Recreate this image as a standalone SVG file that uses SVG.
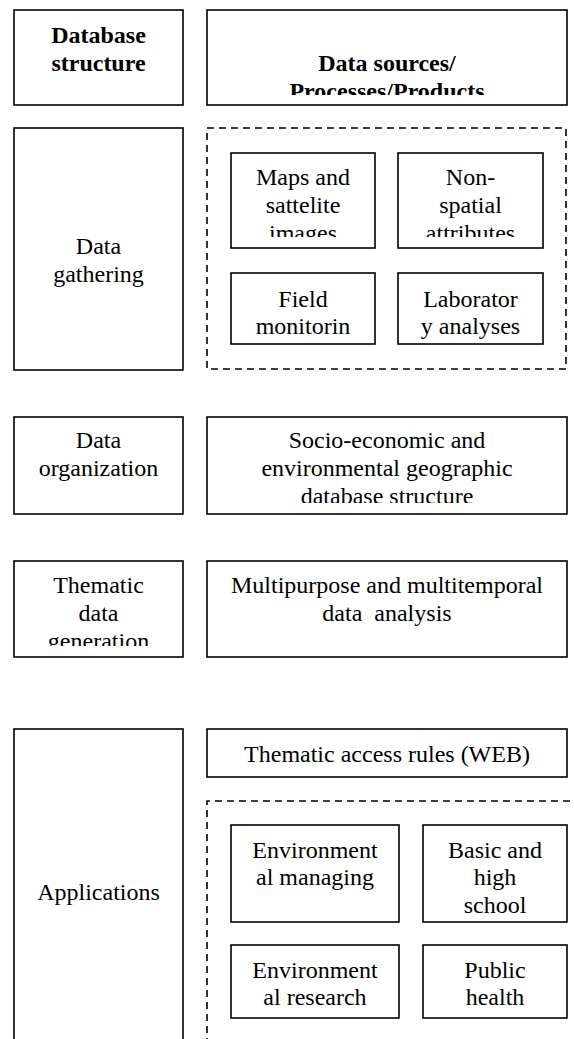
<svg xmlns="http://www.w3.org/2000/svg" width="574" height="1039" viewBox="0 0 574 1039">
<style>
.box{fill:#fff;stroke:#000;stroke-width:1.6}
.dash{fill:none;stroke:#000;stroke-width:1.6;stroke-dasharray:7 5}
.t{font-family:"Liberation Serif","Times New Roman",serif;font-size:24px;fill:#000;text-anchor:middle}
.b{font-weight:bold}
</style>
<defs>
<clipPath id="c-src"><rect x="207" y="10" width="360" height="85"/></clipPath>
<clipPath id="c-maps"><rect x="231" y="153" width="144" height="84"/></clipPath>
<clipPath id="c-non"><rect x="398" y="153" width="145" height="84"/></clipPath>
<clipPath id="c-socio"><rect x="207" y="417" width="360" height="86"/></clipPath>
<clipPath id="c-them"><rect x="14" y="561" width="169" height="85"/></clipPath>
</defs>
<g id="connectors"></g>
<g id="hdr-structure" class="t">
<rect class="box" x="14" y="10" width="169" height="95"/>
<text class="b" x="98.5" y="43">Database</text>
<text class="b" x="98.5" y="71">structure</text>
</g>
<g id="hdr-sources" class="t">
<rect class="box" x="207" y="10" width="360" height="95"/>
<g clip-path="url(#c-src)">
<text class="b" x="387" y="71">Data sources/</text>
<text class="b" x="387" y="99">Processes/Products</text>
</g>
</g>
<g id="gathering" class="t">
<rect class="box" x="14" y="128" width="169" height="242"/>
<text x="98.5" y="254">Data</text>
<text x="98.5" y="282">gathering</text>
</g>
<g id="sources-group">
<rect class="dash" x="207" y="128" width="359" height="241"/>
</g>
<g id="maps" class="t">
<rect class="box" x="231" y="153" width="144" height="95"/>
<g clip-path="url(#c-maps)">
<text x="303" y="185">Maps and</text>
<text x="303" y="213">sattelite</text>
<text x="303" y="241">images</text>
</g>
</g>
<g id="nonspatial" class="t">
<rect class="box" x="398" y="153" width="145" height="95"/>
<g clip-path="url(#c-non)">
<text x="470.5" y="185">Non-</text>
<text x="470.5" y="213">spatial</text>
<text x="470.5" y="241">attributes</text>
</g>
</g>
<g id="field" class="t">
<rect class="box" x="231" y="273" width="144" height="71"/>
<text x="303" y="307">Field</text>
<text x="303" y="334">monitorin</text>
</g>
<g id="lab" class="t">
<rect class="box" x="398" y="273" width="145" height="71"/>
<text x="470.5" y="307">Laborator</text>
<text x="470.5" y="334">y analyses</text>
</g>
<g id="organization" class="t">
<rect class="box" x="14" y="417" width="169" height="97"/>
<text x="98.5" y="448">Data</text>
<text x="98.5" y="476">organization</text>
</g>
<g id="socio" class="t">
<rect class="box" x="207" y="417" width="360" height="97"/>
<g clip-path="url(#c-socio)">
<text x="387" y="448">Socio-economic and</text>
<text x="387" y="476">environmental geographic</text>
<text x="387" y="504">database structure</text>
</g>
</g>
<g id="thematic" class="t">
<rect class="box" x="14" y="561" width="169" height="96"/>
<g clip-path="url(#c-them)">
<text x="98.5" y="593">Thematic</text>
<text x="98.5" y="621">data</text>
<text x="98.5" y="649">generation</text>
</g>
</g>
<g id="multipurpose" class="t">
<rect class="box" x="207" y="561" width="360" height="96"/>
<text x="387" y="593">Multipurpose and multitemporal</text>
<text x="387" y="621" xml:space="preserve">data  analysis</text>
</g>
<g id="applications" class="t">
<rect class="box" x="14" y="729" width="169" height="330"/>
<text x="98.5" y="900">Applications</text>
</g>
<g id="access" class="t">
<rect class="box" x="207" y="729" width="360" height="48"/>
<text x="387" y="762">Thematic access rules (WEB)</text>
</g>
<g id="apps-group">
<path class="dash" d="M207 1045 V801 H580"/>
</g>
<g id="env-managing" class="t">
<rect class="box" x="231" y="825" width="168" height="97"/>
<text x="315" y="858">Environment</text>
<text x="315" y="885">al managing</text>
</g>
<g id="school" class="t">
<rect class="box" x="423" y="825" width="144" height="97"/>
<text x="495" y="858">Basic and</text>
<text x="495" y="885">high</text>
<text x="495" y="913">school</text>
</g>
<g id="env-research" class="t">
<rect class="box" x="231" y="945" width="168" height="73"/>
<text x="315" y="978">Environment</text>
<text x="315" y="1005">al research</text>
</g>
<g id="health" class="t">
<rect class="box" x="423" y="945" width="144" height="73"/>
<text x="495" y="978">Public</text>
<text x="495" y="1005">health</text>
</g>
</svg>
